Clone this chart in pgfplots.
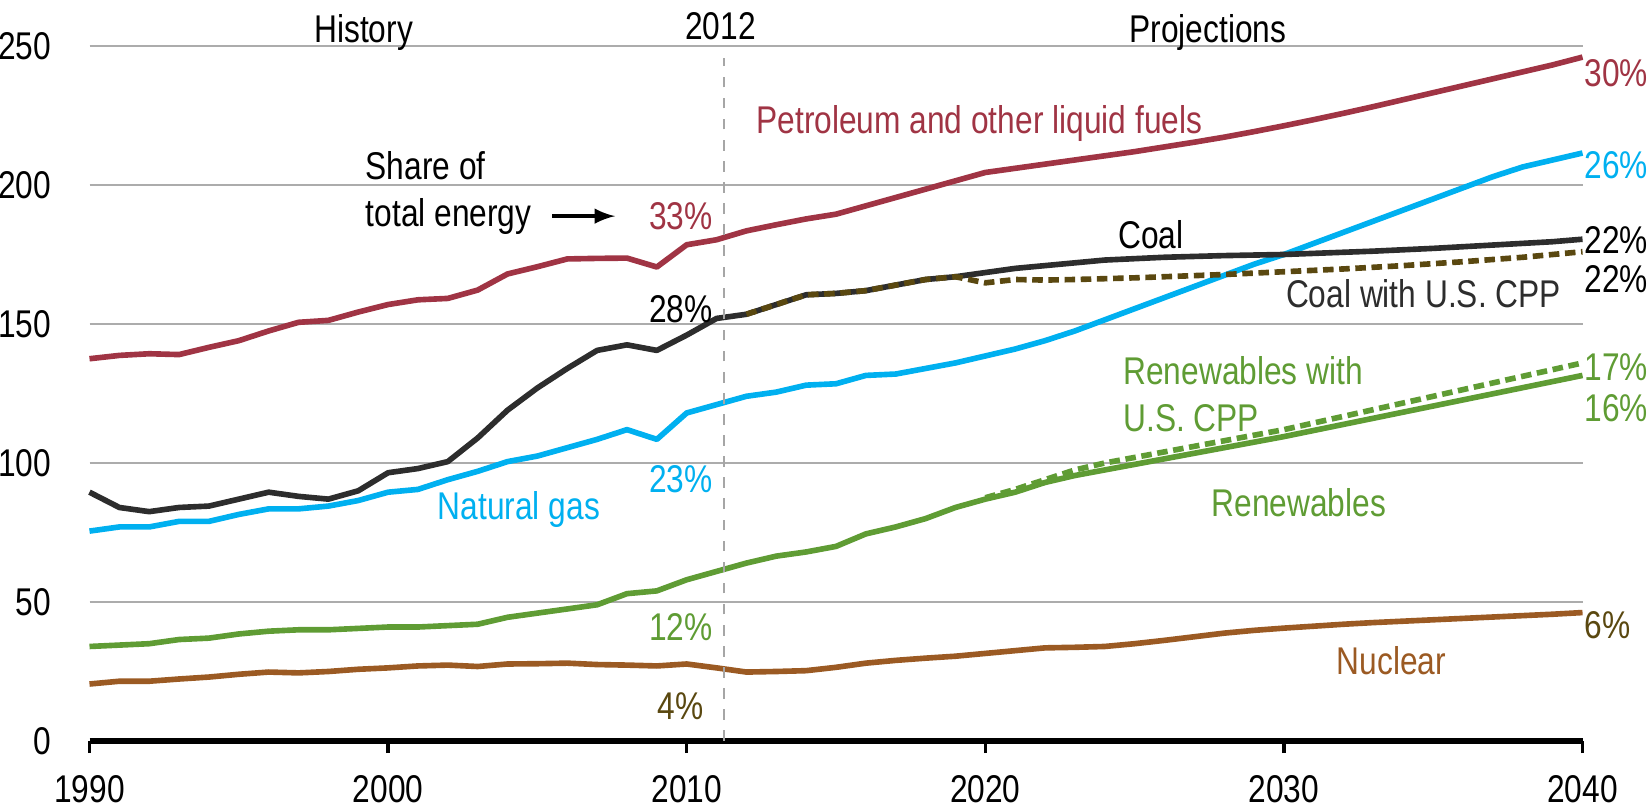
\documentclass[border=0pt]{standalone}
\usepackage{pgfplots}
\pgfplotsset{compat=1.18}
\usepackage{fontspec}
\setmainfont[FakeStretch=0.82]{Liberation Sans}
\definecolor{petro}{RGB}{160,52,68}
\definecolor{gas}{RGB}{0,176,240}
\definecolor{coal}{RGB}{45,45,45}
\definecolor{coalcpp}{RGB}{90,72,16}
\definecolor{renew}{RGB}{95,156,52}
\definecolor{nuc}{RGB}{155,90,35}
\begin{document}
\begin{tikzpicture}
\useasboundingbox (-0.895,-0.65) rectangle (15.625,7.41);
\begin{axis}[
  scale only axis, width=14.93cm, height=6.95cm,
  xmin=1990, xmax=2040, ymin=0, ymax=250,
  axis lines*=left, axis line style={draw=none},
  xtick={1990,2000,...,2040}, ytick={0,50,...,250},
  ymajorgrids, grid style={gray!65, line width=0.8pt},
  ytick style={draw=none},
  xtick style={black, line width=1pt},
  tick align=outside, major tick length=0.12cm,
  /pgf/number format/1000 sep={},
  /pgf/number format/assume math mode=true,
  tick label style={font=\fontsize{11}{13}\selectfont},
  yticklabel style={xshift=-0.14cm},
  xticklabel style={yshift=-0.1cm},
  clip=false,
  every axis plot/.append style={line width=1.6pt, line join=round},
  font=\fontsize{11}{13}\selectfont,
]
% petroleum
\addplot[petro] coordinates {
(1990,137.5)(1991,138.7)(1992,139.3)(1993,139.0)(1994,141.6)(1995,144.0)(1996,147.5)(1997,150.6)(1998,151.3)(1999,154.3)
(2000,157.0)(2001,158.7)(2002,159.2)(2003,162.2)(2004,168.0)(2005,170.6)(2006,173.4)(2007,173.6)(2008,173.7)(2009,170.5)
(2010,178.5)(2011,180.3)(2012,183.5)(2013,185.7)(2014,187.8)(2015,189.5)(2016,192.5)(2017,195.5)(2018,198.5)(2019,201.5)
(2020,204.5)(2021,206.0)(2022,207.5)(2023,209.0)(2024,210.5)(2025,212.0)(2026,213.7)(2027,215.4)(2028,217.2)(2029,219.2)
(2030,221.3)(2031,223.5)(2032,225.8)(2033,228.2)(2034,230.7)(2035,233.2)(2036,235.7)(2037,238.2)(2038,240.7)(2039,243.2)(2040,246.0)
};
% natural gas
\addplot[gas] coordinates {
(1990,75.5)(1991,77.0)(1992,77.0)(1993,79.0)(1994,79.0)(1995,81.5)(1996,83.5)(1997,83.5)(1998,84.5)(1999,86.5)
(2000,89.5)(2001,90.5)(2002,94.0)(2003,97.0)(2004,100.5)(2005,102.5)(2006,105.5)(2007,108.5)(2008,112.0)(2009,108.5)
(2010,118.0)(2011,121.0)(2012,124.0)(2013,125.5)(2014,128.0)(2015,128.5)(2016,131.5)(2017,132.0)(2018,134.0)(2019,136.0)
(2020,138.5)(2021,141.0)(2022,144.0)(2023,147.5)(2024,151.5)(2025,155.5)(2026,159.5)(2027,163.5)(2028,167.5)(2029,171.5)
(2030,175.0)(2031,179.0)(2032,183.0)(2033,187.0)(2034,191.0)(2035,195.0)(2036,199.0)(2037,203.0)(2038,206.5)(2039,209.0)(2040,211.5)
};
% coal
\addplot[coal] coordinates {
(1990,89.5)(1991,84.0)(1992,82.5)(1993,84.0)(1994,84.5)(1995,87.0)(1996,89.5)(1997,88.0)(1998,87.0)(1999,90.0)
(2000,96.5)(2001,98.0)(2002,100.5)(2003,109.0)(2004,119.0)(2005,127.0)(2006,134.0)(2007,140.5)(2008,142.5)(2009,140.5)
(2010,146.0)(2011,152.0)(2012,153.5)(2013,157.0)(2014,160.5)(2015,161.0)(2016,162.0)(2017,164.0)(2018,166.0)
(2019,167.0)(2020,168.5)(2021,170.0)(2022,171.0)(2023,172.0)(2024,173.0)(2025,173.5)(2026,174.0)(2027,174.3)(2028,174.6)(2029,174.8)
(2030,175.0)(2031,175.4)(2032,175.8)(2033,176.2)(2034,176.7)(2035,177.2)(2036,177.8)(2037,178.4)(2038,179.0)(2039,179.6)(2040,180.5)
};
% coal with CPP
\addplot[coalcpp, dash pattern=on 3pt off 1.6pt] coordinates {
(2012,153.5)(2013,157.0)(2014,160.5)(2015,161.0)(2016,162.0)(2017,164.0)(2018,166.0)(2019,167.0)
(2020,164.8)(2021,166.0)(2022,165.8)(2023,166.0)(2024,166.3)(2025,166.6)(2026,167.0)(2027,167.4)(2028,167.8)(2029,168.3)
(2030,168.8)(2031,169.3)(2032,169.8)(2033,170.4)(2034,171.0)(2035,171.7)(2036,172.4)(2037,173.2)(2038,174.0)(2039,175.0)(2040,176.0)
};
% renewables
\addplot[renew] coordinates {
(1990,34.0)(1991,34.5)(1992,35.0)(1993,36.5)(1994,37.0)(1995,38.5)(1996,39.5)(1997,40.0)(1998,40.0)(1999,40.5)
(2000,41.0)(2001,41.0)(2002,41.5)(2003,42.0)(2004,44.5)(2005,46.0)(2006,47.5)(2007,49.0)(2008,53.0)(2009,54.0)
(2010,58.0)(2011,61.0)(2012,64.0)(2013,66.5)(2014,68.0)(2015,70.0)(2016,74.5)(2017,77.0)(2018,80.0)(2019,84.0)
(2020,87.0)(2021,89.5)(2022,93.0)(2023,95.5)(2024,97.5)(2025,99.5)(2026,101.5)(2027,103.5)(2028,105.5)(2029,107.5)
(2030,109.5)(2031,111.7)(2032,113.9)(2033,116.1)(2034,118.3)(2035,120.5)(2036,122.7)(2037,124.9)(2038,127.1)(2039,129.3)(2040,131.5)
};
% renewables with CPP
\addplot[renew, dash pattern=on 3pt off 1.6pt] coordinates {
(2020,87.5)(2021,90.5)(2022,94.0)(2023,97.5)(2024,100.0)(2025,102.0)(2026,104.0)(2027,106.0)(2028,108.0)(2029,110.0)
(2030,112.0)(2031,114.4)(2032,116.8)(2033,119.2)(2034,121.6)(2035,124.0)(2036,126.4)(2037,128.8)(2038,131.2)(2039,133.6)(2040,136.0)
};
% nuclear
\addplot[nuc] coordinates {
(1990,20.5)(1991,21.5)(1992,21.5)(1993,22.3)(1994,23.0)(1995,24.0)(1996,24.8)(1997,24.5)(1998,25.0)(1999,25.8)
(2000,26.3)(2001,27.0)(2002,27.3)(2003,26.8)(2004,27.7)(2005,27.8)(2006,28.0)(2007,27.5)(2008,27.3)(2009,27.0)
(2010,27.7)(2011,26.3)(2012,24.8)(2013,25.0)(2014,25.3)(2015,26.5)(2016,28.0)(2017,29.0)(2018,29.8)(2019,30.5)
(2020,31.5)(2021,32.5)(2022,33.5)(2023,33.7)(2024,34.0)(2025,35.0)(2026,36.2)(2027,37.5)(2028,38.8)(2029,39.8)
(2030,40.6)(2031,41.3)(2032,42.0)(2033,42.6)(2034,43.1)(2035,43.6)(2036,44.1)(2037,44.6)(2038,45.1)(2039,45.6)(2040,46.2)
};
% x axis line and 2012 divider
\draw[black, line width=1.5pt] (axis cs:1990,0) -- (axis cs:2040,0);
\draw[gray!70, dashed, line width=0.5pt] (axis cs:2011.25,0) -- (axis cs:2011.25,245.5);
% headings
\node[anchor=base] at (axis cs:1999.18,251.4) {History};
\node[anchor=base] at (axis cs:2011.13,252.4) {2012};
\node[anchor=base] at (axis cs:2027.45,251.4) {Projections};
% series labels
\node[anchor=base, text=petro] at (axis cs:2019.8,218.7) {Petroleum and other liquid fuels};
\node[anchor=base west, inner sep=0pt] at (axis cs:1999.23,201.8) {Share of};
\node[anchor=base west, inner sep=0pt] at (axis cs:1999.23,185.0) {total energy};
\draw[-latex, line width=1pt] (axis cs:2005.5,188.8) -- (axis cs:2007.6,188.8);
\node[anchor=base, text=petro] at (axis cs:2009.8,184.0) {33\%};
\node[anchor=base] at (axis cs:2025.55,177.0) {Coal};
\node[anchor=base] at (axis cs:2009.8,150.7) {28\%};
\node[anchor=base, text=gas] at (axis cs:2009.8,89.5) {23\%};
\node[anchor=base, text=gas] at (axis cs:2004.38,79.8) {Natural gas};
\node[anchor=base, text=renew] at (axis cs:2009.8,36.2) {12\%};
\node[anchor=base, text=coalcpp] at (axis cs:2009.8,7.9) {4\%};
\node[anchor=base east, inner sep=0pt, text=coal] at (axis cs:2039.3,156.0) {Coal with U.S. CPP};
\node[anchor=base west, inner sep=0pt, text=renew] at (axis cs:2024.6,128.3) {Renewables with};
\node[anchor=base west, inner sep=0pt, text=renew] at (axis cs:2024.6,111.4) {U.S. CPP};
\node[anchor=base, text=renew] at (axis cs:2030.5,80.7) {Renewables};
\node[anchor=base, text=nuc] at (axis cs:2033.6,24.1) {Nuclear};
% end shares
\node[anchor=base west, inner sep=0pt, text=petro] at (axis cs:2040.05,235.4) {30\%};
\node[anchor=base west, inner sep=0pt, text=gas] at (axis cs:2040.05,202.5) {26\%};
\node[anchor=base west, inner sep=0pt] at (axis cs:2040.05,175.5) {22\%};
\node[anchor=base west, inner sep=0pt] at (axis cs:2040.05,161.5) {22\%};
\node[anchor=base west, inner sep=0pt, text=renew] at (axis cs:2040.05,129.5) {17\%};
\node[anchor=base west, inner sep=0pt, text=renew] at (axis cs:2040.05,115.0) {16\%};
\node[anchor=base west, inner sep=0pt, text=coalcpp] at (axis cs:2040.05,36.7) {6\%};
\end{axis}
\end{tikzpicture}
\end{document}
